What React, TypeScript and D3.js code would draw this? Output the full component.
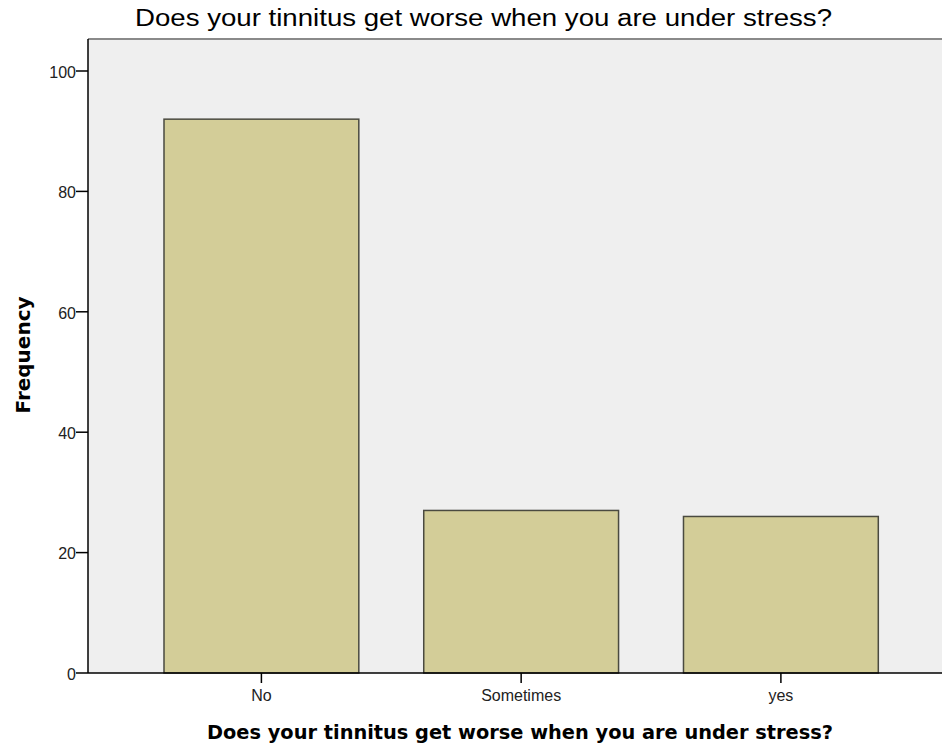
import React from "react";
import * as d3 from "d3";

const categories = ["No", "Sometimes", "yes"];
const frequencies = [92, 27, 26];
const yTicks = [0, 20, 40, 60, 80, 100];
const chartTitle = "Does your tinnitus get worse when you are under stress?";
const xTitle = "Does your tinnitus get worse when you are under stress?";
const yTitle = "Frequency";

export default function App() {
  const W = 942, H = 748;
  const left = 88, top = 39, bottom = 673;
  const x = d3.scaleBand<string>().domain(categories).range([164, 878.3]).paddingInner(0.25).paddingOuter(0);
  const y = d3.scaleLinear().domain([0, 100]).range([bottom, 71]);
  const tickFont = "'Liberation Sans', Arial, sans-serif";
  return (
    <svg width={W} height={H} style={{ position: "absolute", left: 0, top: 0, background: "#fff" }}>
      <rect x={left} y={top} width={W - left} height={bottom - top} fill="#efefef" />
      <line x1={left} x2={W} y1={top} y2={top} stroke="#8a8a8a" strokeWidth={2} />
      {categories.map((c, i) => (
        <rect key={c} x={x(c)!} y={y(frequencies[i])} width={x.bandwidth()} height={bottom - y(frequencies[i])}
          fill="#d3cd98" stroke="#4a4a40" strokeWidth={1.5} />
      ))}
      <line x1={left} x2={left} y1={top} y2={bottom} stroke="#000" strokeWidth={1.5} />
      <line x1={left} x2={W} y1={bottom} y2={bottom} stroke="#000" strokeWidth={1.5} />
      {yTicks.map(t => (
        <g key={t}>
          <line x1={left - 12} x2={left} y1={y(t)} y2={y(t)} stroke="#000" strokeWidth={1.5} />
          <text x={left - 12} y={y(t)} dy="0.42em" textAnchor="end" fontFamily={tickFont} fontSize={16} fill="#222">{t}</text>
        </g>
      ))}
      {categories.map(c => {
        const cx = x(c)! + x.bandwidth() / 2;
        return (
          <g key={c}>
            <line x1={cx} x2={cx} y1={bottom} y2={bottom + 10} stroke="#000" strokeWidth={1.5} />
            <text x={cx} y={701} textAnchor="middle" fontFamily={tickFont} fontSize={16} fill="#222">{c}</text>
          </g>
        );
      })}
      <text x={483.5} y={26} textAnchor="middle" fontFamily="'Liberation Sans Narrow', 'Arial Narrow', 'Liberation Sans', sans-serif"
        fontSize={23} fill="#000" textLength={697} lengthAdjust="spacingAndGlyphs">{chartTitle}</text>
      <text x={520} y={739} textAnchor="middle" fontFamily="'DejaVu Sans', Verdana, sans-serif" fontWeight="bold"
        fontSize={19} fill="#000" textLength={626} lengthAdjust="spacingAndGlyphs">{xTitle}</text>
      <text transform="translate(30,355) rotate(-90)" textAnchor="middle" fontFamily="'DejaVu Sans', Verdana, sans-serif"
        fontWeight="bold" fontSize={19} fill="#000" textLength={117} lengthAdjust="spacingAndGlyphs">{yTitle}</text>
    </svg>
  );
}
